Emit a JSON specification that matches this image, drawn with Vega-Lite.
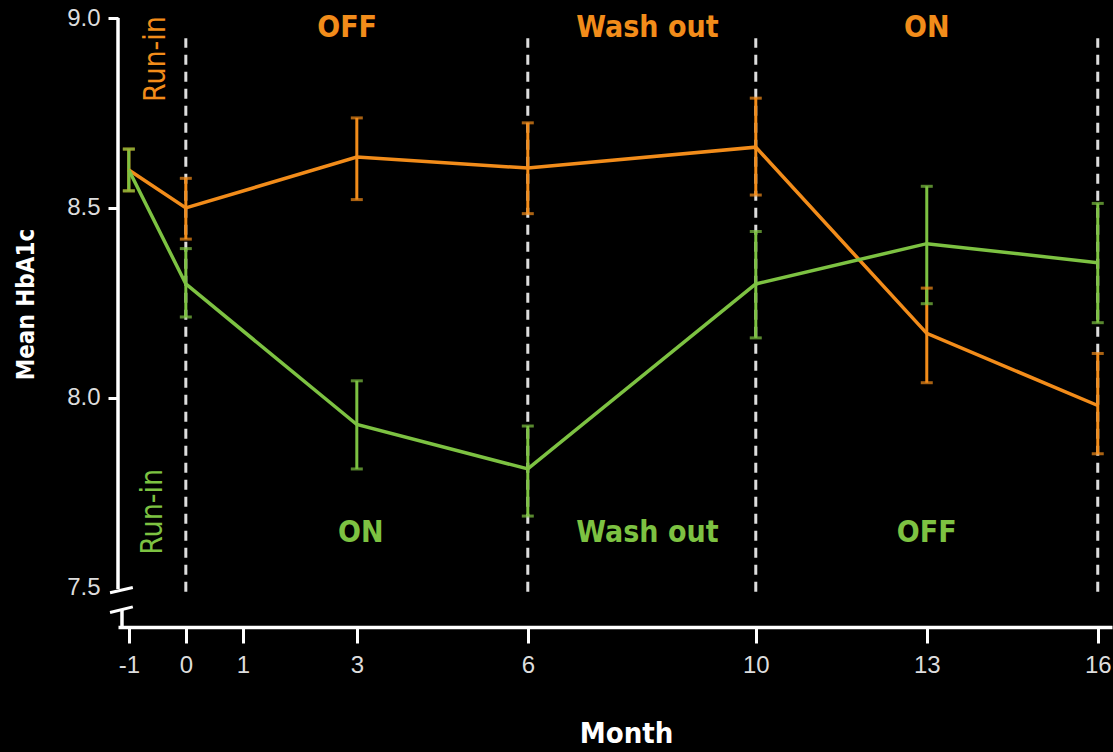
{
  "$schema": "https://vega.github.io/schema/vega-lite/v6.json",
  "width": 994,
  "height": 609,
  "autosize": {"type": "none"},
  "padding": {"left": 118, "top": 18, "right": 1, "bottom": 125},
  "background": "#000000",
  "config": {
    "view": {"stroke": null},
    "axis": {"grid": false}
  },
  "datasets": {
    "series": [
      {"month": -1, "group": "OFF→ON", "mean": 8.60, "lo": 8.545, "hi": 8.655},
      {"month": 0, "group": "OFF→ON", "mean": 8.50, "lo": 8.418, "hi": 8.578},
      {"month": 3, "group": "OFF→ON", "mean": 8.634, "lo": 8.522, "hi": 8.737},
      {"month": 6, "group": "OFF→ON", "mean": 8.605, "lo": 8.485, "hi": 8.724},
      {"month": 10, "group": "OFF→ON", "mean": 8.66, "lo": 8.534, "hi": 8.789},
      {"month": 13, "group": "OFF→ON", "mean": 8.17, "lo": 8.04, "hi": 8.289},
      {"month": 16, "group": "OFF→ON", "mean": 7.98, "lo": 7.853, "hi": 8.117},
      {"month": -1, "group": "ON→OFF", "mean": 8.60, "lo": 8.545, "hi": 8.655},
      {"month": 0, "group": "ON→OFF", "mean": 8.30, "lo": 8.213, "hi": 8.393},
      {"month": 3, "group": "ON→OFF", "mean": 7.93, "lo": 7.813, "hi": 8.045},
      {"month": 6, "group": "ON→OFF", "mean": 7.813, "lo": 7.689, "hi": 7.926},
      {"month": 10, "group": "ON→OFF", "mean": 8.30, "lo": 8.158, "hi": 8.438},
      {"month": 13, "group": "ON→OFF", "mean": 8.406, "lo": 8.248, "hi": 8.557},
      {"month": 16, "group": "ON→OFF", "mean": 8.356, "lo": 8.198, "hi": 8.512}
    ],
    "phases": [
      {"month": 2.83, "value": 8.974, "group": "OFF→ON", "label": "OFF"},
      {"month": 8.1, "value": 8.974, "group": "OFF→ON", "label": "Wash out"},
      {"month": 13.0, "value": 8.974, "group": "OFF→ON", "label": "ON"},
      {"month": 3.07, "value": 7.645, "group": "ON→OFF", "label": "ON"},
      {"month": 8.1, "value": 7.645, "group": "ON→OFF", "label": "Wash out"},
      {"month": 13.0, "value": 7.645, "group": "ON→OFF", "label": "OFF"}
    ],
    "runin": [
      {"month": -0.53, "value": 8.892, "group": "OFF→ON", "label": "Run-in"},
      {"month": -0.58, "value": 7.70, "group": "ON→OFF", "label": "Run-in"}
    ],
    "dividers": [
      {"month": 0}, {"month": 6}, {"month": 10}, {"month": 16}
    ]
  },
  "layer": [
    {
      "data": {"name": "dividers"},
      "mark": {"type": "rule", "color": "#dddddd", "strokeWidth": 3, "strokeDash": [10, 7]},
      "encoding": {
        "x": {
          "field": "month", "type": "quantitative",
          "scale": {"domain": [-1.19, 16.25], "nice": false, "zero": false},
          "axis": {
            "values": [-1, 0, 1, 3, 6, 10, 13, 16],
            "format": "d",
            "labelExpr": "replace(datum.label, '−', '-')",
            "domainColor": "#ffffff", "domainWidth": 3.5,
            "tickColor": "#ffffff", "tickWidth": 3, "tickSize": 16,
            "labelColor": "#dddddd", "labelFont": "Liberation Sans", "labelFontSize": 24,
            "labelPadding": 10,
            "title": "Month",
            "titleColor": "#ffffff", "titleFont": "Liberation Sans Narrow, Arial Narrow, DejaVu Sans Condensed, sans-serif",
            "titleFontSize": 29, "titleFontWeight": "bold",
            "titleX": 508, "titleY": 106, "titleBaseline": "middle", "titleAlign": "center"
          }
        },
        "y": {
          "datum": 7.49, "type": "quantitative",
          "scale": {"domain": [7.397, 9.0], "nice": false, "zero": false},
          "axis": {
            "values": [7.5, 8.0, 8.5, 9.0],
            "format": ".1f",
            "domain": false,
            "tickColor": "#ffffff", "tickWidth": 3, "tickSize": 10,
            "tickOpacity": {"condition": {"test": "datum.value < 7.7", "value": 0}, "value": 1},
            "labelColor": "#dddddd", "labelFont": "Liberation Sans", "labelFontSize": 24,
            "labelPadding": 8,
            "title": "Mean HbA1c",
            "titleColor": "#ffffff", "titleFont": "Liberation Sans Narrow, Arial Narrow, DejaVu Sans Condensed, sans-serif",
            "titleFontSize": 24, "titleFontWeight": "bold",
            "titleX": -92, "titleY": 286, "titleAngle": -90, "titleBaseline": "middle", "titleAlign": "center"
          }
        },
        "y2": {"datum": 8.947}
      }
    },
    {
      "data": {"values": [{}]},
      "mark": {"type": "rule", "color": "#ffffff", "strokeWidth": 3.5},
      "encoding": {
        "x": {"datum": -1.19, "type": "quantitative"},
        "y": {"datum": 7.497, "type": "quantitative"},
        "y2": {"datum": 9.0}
      }
    },
    {
      "data": {"values": [{}]},
      "mark": {"type": "rule", "color": "#ffffff", "strokeWidth": 3},
      "encoding": {
        "x": {"datum": -1.33, "type": "quantitative"},
        "x2": {"datum": -0.93},
        "y": {"datum": 7.487, "type": "quantitative"},
        "y2": {"datum": 7.501}
      }
    },
    {
      "data": {"values": [{}]},
      "mark": {"type": "rule", "color": "#ffffff", "strokeWidth": 3},
      "encoding": {
        "x": {"datum": -1.33, "type": "quantitative"},
        "x2": {"datum": -0.93},
        "y": {"datum": 7.435, "type": "quantitative"},
        "y2": {"datum": 7.450}
      }
    },
    {
      "data": {"values": [{}]},
      "mark": {"type": "rule", "color": "#ffffff", "strokeWidth": 3.5},
      "encoding": {
        "x": {"datum": -1.12, "type": "quantitative"},
        "y": {"datum": 7.397, "type": "quantitative"},
        "y2": {"datum": 7.443}
      }
    },
    {
      "data": {"name": "series"},
      "mark": {"type": "rule", "strokeWidth": 3},
      "encoding": {
        "x": {"field": "month", "type": "quantitative"},
        "y": {"field": "lo", "type": "quantitative"},
        "y2": {"field": "hi"},
        "color": {"field": "group", "type": "nominal", "scale": {"domain": ["OFF→ON", "ON→OFF"], "range": ["#F28C1A", "#7DC242"]}, "legend": null}
      }
    },
    {
      "data": {"name": "series"},
      "mark": {"type": "tick", "orient": "horizontal", "size": 12, "thickness": 3},
      "encoding": {
        "x": {"field": "month", "type": "quantitative"},
        "y": {"field": "lo", "type": "quantitative"},
        "color": {"field": "group", "type": "nominal", "legend": null}
      }
    },
    {
      "data": {"name": "series"},
      "mark": {"type": "tick", "orient": "horizontal", "size": 12, "thickness": 3},
      "encoding": {
        "x": {"field": "month", "type": "quantitative"},
        "y": {"field": "hi", "type": "quantitative"},
        "color": {"field": "group", "type": "nominal", "legend": null}
      }
    },
    {
      "data": {"name": "series"},
      "mark": {"type": "line", "strokeWidth": 3.5},
      "encoding": {
        "x": {"field": "month", "type": "quantitative"},
        "y": {"field": "mean", "type": "quantitative"},
        "color": {"field": "group", "type": "nominal", "legend": null}
      }
    },
    {
      "data": {"name": "phases"},
      "mark": {"type": "text", "font": "Liberation Sans Narrow, Arial Narrow, DejaVu Sans Condensed, sans-serif", "fontSize": 30, "fontWeight": "bold", "align": "center", "baseline": "middle"},
      "encoding": {
        "x": {"field": "month", "type": "quantitative"},
        "y": {"field": "value", "type": "quantitative"},
        "text": {"field": "label"},
        "color": {"field": "group", "type": "nominal", "legend": null}
      }
    },
    {
      "data": {"name": "runin"},
      "mark": {"type": "text", "font": "Liberation Sans Narrow, Arial Narrow, DejaVu Sans Condensed, sans-serif", "fontSize": 30, "angle": 270, "align": "center", "baseline": "middle"},
      "encoding": {
        "x": {"field": "month", "type": "quantitative"},
        "y": {"field": "value", "type": "quantitative"},
        "text": {"field": "label"},
        "color": {"field": "group", "type": "nominal", "legend": null}
      }
    }
  ]
}
